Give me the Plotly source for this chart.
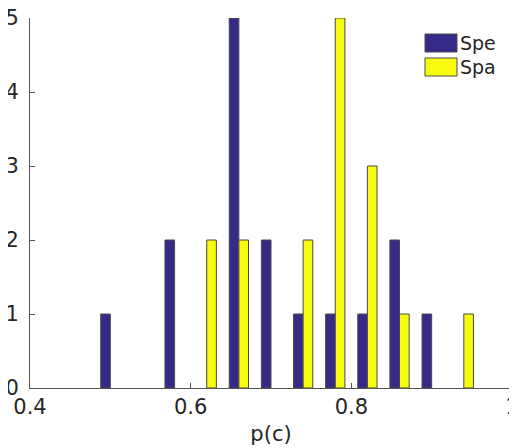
import plotly.graph_objects as go

bins = [0.50, 0.54, 0.58, 0.62, 0.66, 0.70, 0.74, 0.78, 0.82, 0.86, 0.90, 0.94]
spe = [1, 0, 2, 0, 5, 2, 1, 1, 1, 2, 1, 0]
spa = [0, 0, 0, 2, 2, 0, 2, 5, 3, 1, 0, 1]
series_names = ["Spe", "Spa"]
colors = ["#352a87", "#f9fb0e"]
x_ticks = [0.4, 0.6, 0.8, 1]
x_tick_labels = ["0.4", "0.6", "0.8", "1"]
y_ticks = [0, 1, 2, 3, 4, 5]

fig = go.Figure()
for name, vals, col in zip(series_names, [spe, spa], colors):
    fig.add_trace(go.Bar(x=bins, y=vals, name=name, marker_color=col,
                         marker_line_color="#4a4a4a",
                         marker_line_width=[1 if v > 0 else 0 for v in vals],
                         showlegend=False))

# page has an 8px body margin; figure sized to fit window
W, H = 509, 440
L, R, T, B = 22, 5, 10, 60
font = dict(family="DejaVu Sans", size=21, color="#262626")
fig.update_layout(
    width=W, height=H,
    margin=dict(l=L, r=R, t=T, b=B, autoexpand=False),
    plot_bgcolor="white", paper_bgcolor="white",
    barmode="group", bargap=0.4, bargroupgap=0,
    font=font,
    xaxis=dict(range=[0.4, 1], tickvals=x_ticks, ticktext=x_tick_labels,
               ticks="inside", ticklen=5, tickcolor="#555", showline=True,
               linecolor="#555", linewidth=1, showgrid=False, zeroline=False,
               automargin=False, ticklabeloverflow="allow",
               title=dict(text="p(c)", font=font, standoff=8)),
    yaxis=dict(range=[0, 5], tickvals=y_ticks, ticks="inside", ticklen=5,
               tickcolor="#555", showline=True, linecolor="#555", linewidth=1,
               showgrid=False, zeroline=False, ticklabelstandoff=6,
               automargin=False, ticklabeloverflow="allow"),
)

# legend drawn manually (figure pixel coords)
leg_x0, leg_x1 = 417, 449
rows = [(26, 44), (50, 68)]
pw = W - L - R
ph = H - T - B
for (y0, y1), name, col in zip(rows, series_names, colors):
    fig.add_shape(type="rect", xref="paper", yref="paper",
                  x0=(leg_x0 - L) / pw, x1=(leg_x1 - L) / pw,
                  y0=1 - (y1 - T) / ph, y1=1 - (y0 - T) / ph,
                  fillcolor=col, line=dict(color="#4a4a4a", width=1))
    fig.add_annotation(xref="paper", yref="paper", x=(leg_x1 + 1 - L) / pw,
                       y=1 - ((y0 + y1) / 2 - T) / ph, text=name,
                       showarrow=False, xanchor="left", yanchor="middle",
                       font=dict(family="DejaVu Sans", size=19, color="#262626"))

fig.write_html("out.html")
